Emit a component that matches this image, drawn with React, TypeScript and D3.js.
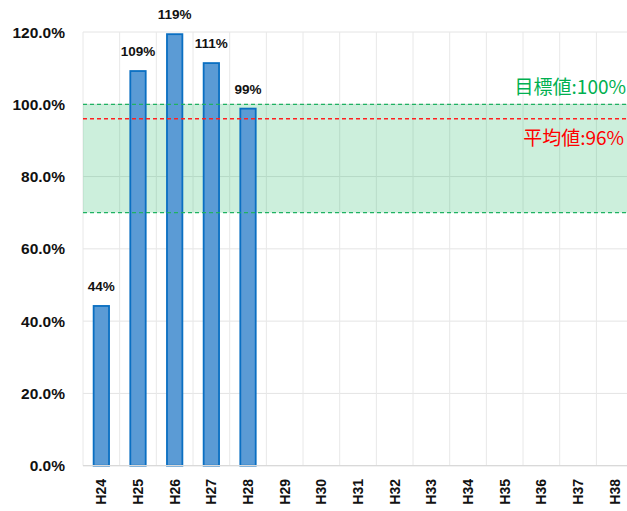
import React, { useRef, useEffect } from "react";
import * as d3 from "d3";

const categories = ["H24", "H25", "H26", "H27", "H28", "H29", "H30", "H31", "H32", "H33", "H34", "H35", "H36", "H37", "H38"];
const rates = [44.2, 109.2, 119.4, 111.4, 98.8];
const yTicks = [0, 20, 40, 60, 80, 100, 120];
const targetValue = 100;
const averageValue = 96;
const bandLow = 70;
const targetLabel = "目標値:100%";
const averageLabel = "平均値:96%";

export default function App() {
  const svgRef = useRef<SVGSVGElement>(null);
  const width = 627;
  const height = 511;

  useEffect(() => {
    document.body.style.margin = "0";
    const svg = d3.select(svgRef.current);
    svg.selectAll("*").remove();

    const left = 83;
    const step = 36.67;
    const x = d3.scaleBand<string>()
      .domain(categories)
      .range([left, left + step * categories.length])
      .padding(0);
    const y = d3.scaleLinear().domain([0, 120]).range([465.7, 32]);

    const font = "'Liberation Sans', Arial, sans-serif";

    // grid
    svg.append("g")
      .selectAll("line")
      .data(yTicks)
      .join("line")
      .attr("x1", left)
      .attr("x2", width)
      .attr("y1", (d) => y(d))
      .attr("y2", (d) => y(d))
      .attr("stroke", "#e4e4e4")
      .attr("stroke-width", 1);

    svg.append("g")
      .selectAll("line")
      .data(categories.concat(["end"]))
      .join("line")
      .attr("x1", (d, i) => left + i * x.step())
      .attr("x2", (d, i) => left + i * x.step())
      .attr("y1", y(120))
      .attr("y2", y(0))
      .attr("stroke", "#e8e8e8")
      .attr("stroke-width", 1);

    // target band
    svg.append("rect")
      .attr("x", left)
      .attr("y", y(targetValue))
      .attr("width", width - left)
      .attr("height", y(bandLow) - y(targetValue))
      .attr("fill", "#00b050")
      .attr("opacity", 0.2);

    // bars
    const bw = x.bandwidth() * 0.42;
    svg.append("g")
      .selectAll("rect")
      .data(rates)
      .join("rect")
      .attr("x", (d, i) => x(categories[i])! + (x.bandwidth() - bw) / 2)
      .attr("y", (d) => y(d))
      .attr("width", bw)
      .attr("height", (d) => y(0) - y(d))
      .attr("fill", "#5b9bd5")
      .attr("stroke", "#0a6fc2")
      .attr("stroke-width", 1.8);

    // reference lines
    const refLine = (v: number, color: string) =>
      svg.append("line")
        .attr("x1", left)
        .attr("x2", width)
        .attr("y1", y(v))
        .attr("y2", y(v))
        .attr("stroke", color)
        .attr("stroke-width", 1.3)
        .attr("stroke-dasharray", "4,3");
    refLine(targetValue, "#1fb262");
    refLine(bandLow, "#1fb262");
    refLine(averageValue, "#ff2020");

    // baseline axis
    svg.append("line")
      .attr("x1", left)
      .attr("x2", width)
      .attr("y1", y(0))
      .attr("y2", y(0))
      .attr("stroke", "#d9d9d9")
      .attr("stroke-width", 1.3);

    // bar labels
    svg.append("g")
      .selectAll("text")
      .data(rates)
      .join("text")
      .attr("x", (d, i) => x(categories[i])! + x.bandwidth() / 2)
      .attr("y", (d) => y(d) - 15)
      .attr("text-anchor", "middle")
      .attr("font-family", font)
      .attr("font-weight", "bold")
      .attr("font-size", "13.5px")
      .attr("fill", "#111")
      .text((d) => `${Math.round(d)}%`);

    // y axis labels
    svg.append("g")
      .selectAll("text")
      .data(yTicks)
      .join("text")
      .attr("x", 65)
      .attr("y", (d) => y(d) + 5.5)
      .attr("text-anchor", "end")
      .attr("font-family", font)
      .attr("font-weight", "bold")
      .attr("font-size", "15.5px")
      .attr("fill", "#111")
      .text((d) => d3.format(".1f")(d) + "%");

    // x axis labels
    svg.append("g")
      .selectAll("text")
      .data(categories)
      .join("text")
      .attr("transform", (d) => `translate(${x(d)! + x.bandwidth() / 2 + 5},479) rotate(-90)`)
      .attr("text-anchor", "end")
      .attr("font-family", font)
      .attr("font-weight", "bold")
      .attr("font-size", "14px")
      .attr("fill", "#111")
      .text((d) => d);

    // annotations
    svg.append("text")
      .attr("x", 626)
      .attr("y", 94)
      .attr("text-anchor", "end")
      .attr("font-family", "'Noto Sans CJK JP', sans-serif")
      .attr("font-size", "19px")
      .attr("fill", "#00b050")
      .text(targetLabel);
    svg.append("text")
      .attr("x", 624)
      .attr("y", 145)
      .attr("text-anchor", "end")
      .attr("font-family", "'Noto Sans CJK JP', sans-serif")
      .attr("font-size", "19px")
      .attr("fill", "#ff0000")
      .text(averageLabel);
  }, []);

  return <svg ref={svgRef} width={width} height={height} style={{ display: "block" }} />;
}
